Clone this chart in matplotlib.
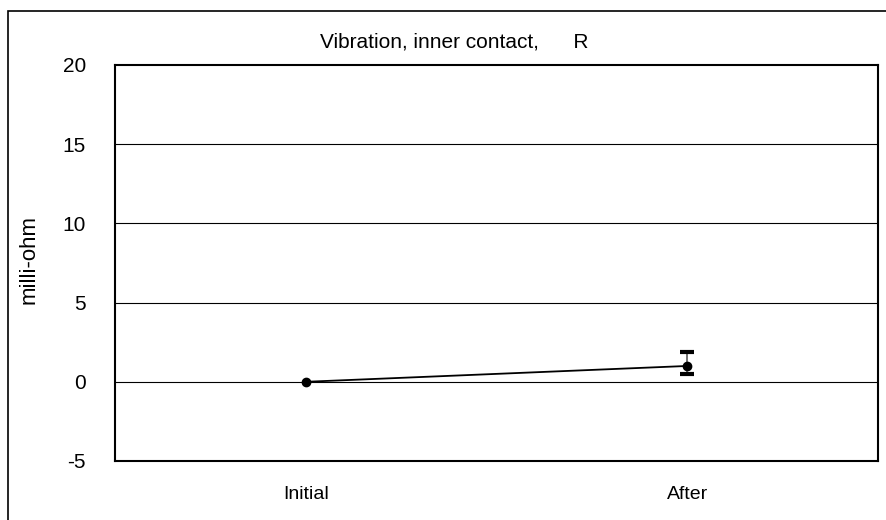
import matplotlib
matplotlib.use("Agg")
import matplotlib.pyplot as plt
from matplotlib.patches import Rectangle

# data
categories = ["Initial", "After"]
values = [0.0, 1.0]
err_low = [0.0, 0.5]
err_high = [0.0, 0.9]
y_ticks = [-5, 0, 5, 10, 15, 20]

plt.rcParams['font.family'] = ['Liberation Sans', 'DejaVu Sans']

fig = plt.figure(figsize=(8.86, 5.2), dpi=100)
ax = fig.add_axes([115/886, 1 - 461/520, (878 - 115)/886, (461 - 65)/520])

x = list(range(len(categories)))
ax.plot(x, values, color='black', lw=1.3, marker='o', ms=6, zorder=3)
eb = ax.errorbar(x[1:], values[1:], yerr=[err_low[1:], err_high[1:]], fmt='none',
                 ecolor='#666666', elinewidth=1.3, capsize=5, capthick=3, zorder=2)
for cap in eb[1]:
    cap.set_markeredgecolor('black')

ax.set_xlim(-0.5, 1.5)
ax.set_ylim(-5, 20)
ax.set_yticks(y_ticks)
ax.set_yticklabels([str(t) for t in y_ticks], fontsize=15)
ax.set_xticks(x)
ax.set_xticklabels(categories, fontsize=14)
ax.tick_params(axis='x', length=0, pad=18)
ax.tick_params(axis='y', length=0, pad=21)
for t in y_ticks[1:-1]:
    ax.axhline(t, color='black', lw=0.8, zorder=1)
for s in ax.spines.values():
    s.set_linewidth(1.5)

ax.set_ylabel("milli-ohm", fontsize=16)
ax.yaxis.set_label_coords(-75/763, 0.51)

fig.text(454/886, 1 - 42/520, "Vibration, inner contact,      R",
         ha='center', va='center', fontsize=15)

# outer chart border
fig.add_artist(Rectangle((8/886, -0.1), 1.2, 1 - 11/520 + 0.1,
                         transform=fig.transFigure, fill=False,
                         edgecolor='black', lw=1.2))

fig.savefig("out.png", dpi=100)
